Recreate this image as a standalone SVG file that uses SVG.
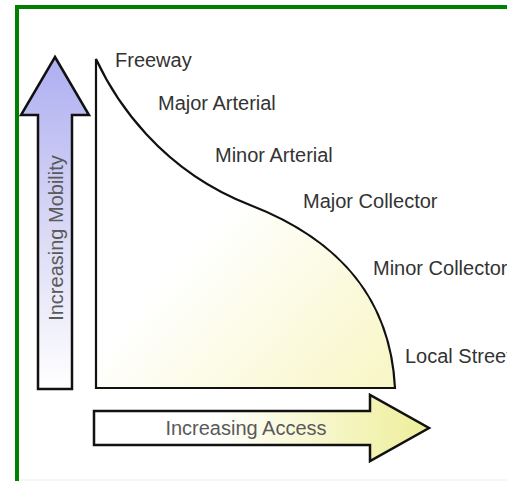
<svg xmlns="http://www.w3.org/2000/svg" width="507" height="481" viewBox="0 0 507 481">
  <defs>
    <linearGradient id="upFill" x1="0" y1="0" x2="0" y2="1">
      <stop offset="0" stop-color="#aeaef2"/>
      <stop offset="0.55" stop-color="#dcdcf6"/>
      <stop offset="1" stop-color="#ffffff"/>
    </linearGradient>
    <linearGradient id="rightFill" x1="0" y1="0" x2="1" y2="0">
      <stop offset="0" stop-color="#ffffff"/>
      <stop offset="0.35" stop-color="#ffffff"/>
      <stop offset="1" stop-color="#eeee9a"/>
    </linearGradient>
    <linearGradient id="areaFill" x1="0" y1="0" x2="1" y2="1">
      <stop offset="0" stop-color="#ffffff"/>
      <stop offset="0.45" stop-color="#ffffff"/>
      <stop offset="1" stop-color="#f8f6c4"/>
    </linearGradient>
    <style>
      .label { font-family: "Liberation Sans", Arial, sans-serif; font-size: 20px; fill: #333333; }
      .axis-label { font-family: "Liberation Sans", Arial, sans-serif; font-size: 20px; fill: #5a5a5a; }
      .outline { stroke: #111111; stroke-width: 2.5; stroke-linejoin: miter; }
    </style>
  </defs>

  <rect width="507" height="481" fill="#ffffff"/>
  <!-- frame -->
  <rect x="17" y="7" width="600" height="600" fill="none" stroke="#008000" stroke-width="4"/>
  <line x1="19" y1="480" x2="507" y2="480" stroke="#e4f1e4" stroke-width="1"/>

  <!-- hierarchy curve area -->
  <g id="curve">
    <path d="M96,59 C115,100 160,170 250,205 C330,236 390,290 395,388 L96,388 Z" fill="url(#areaFill)" stroke="#111111" stroke-width="2.2" stroke-linejoin="miter"/>
  </g>

  <!-- mobility arrow -->
  <g id="mobility-arrow">
    <polygon class="outline" points="55,57 89,115 72,115 72,389 38,389 38,115 21,115" fill="url(#upFill)"/>
    <text class="axis-label" x="0" y="0" text-anchor="middle" transform="translate(63,238) rotate(-90)">Increasing Mobility</text>
  </g>

  <!-- access arrow -->
  <g id="access-arrow">
    <polygon class="outline" points="94,411 370,411 370,395 429,428 370,461 370,445 94,445" fill="url(#rightFill)"/>
    <text class="axis-label" x="246" y="435" text-anchor="middle">Increasing Access</text>
  </g>

  <!-- road classes -->
  <g id="freeway"><text class="label" x="115" y="67">Freeway</text></g>
  <g id="major-arterial"><text class="label" x="158" y="110">Major Arterial</text></g>
  <g id="minor-arterial"><text class="label" x="215" y="162">Minor Arterial</text></g>
  <g id="major-collector"><text class="label" x="303" y="208">Major Collector</text></g>
  <g id="minor-collector"><text class="label" x="373" y="275">Minor Collector</text></g>
  <g id="local-streets"><text class="label" x="405" y="363">Local Streets</text></g>
</svg>
